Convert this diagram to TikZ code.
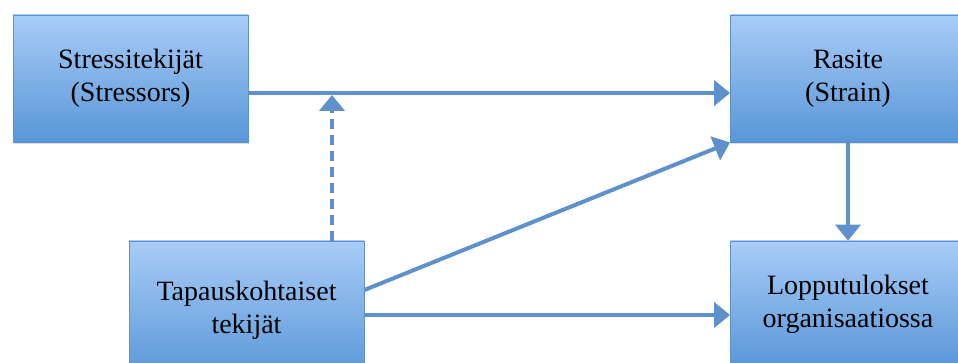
\documentclass[tikz,border=0pt]{standalone}
\usepackage{fontspec}
\setmainfont{Liberation Serif}
\usetikzlibrary{arrows.meta,shadows}
\definecolor{boxtop}{HTML}{A8CCF7}
\definecolor{boxbot}{HTML}{5896D7}
\definecolor{boxline}{HTML}{5E90CC}
\definecolor{arrowc}{HTML}{5E91CB}
\tikzset{
  box/.style={rectangle, draw=boxline, line width=0.8pt, top color=boxtop, bottom color=boxbot,
    minimum width=235pt, minimum height=127pt, align=center, inner sep=0pt,
    font=\fontsize{28}{33}\selectfont, text=black,
    drop shadow={opacity=0.25, shadow xshift=0.5pt, shadow yshift=-2pt}},
  arr/.style={draw=arrowc, line width=4pt, -{Triangle[width=25pt,length=16pt]}},
  dasharr/.style={arr, dash pattern=on 10pt off 6pt}
}
\begin{document}
\begin{tikzpicture}[x=1pt,y=-1pt]
\useasboundingbox (0,0) rectangle (958,363);
\clip (0,0) rectangle (958,363);
\node[box] (s) at (130.5,78.5) {Stressitekijät\\(Stressors)};
\node[box] (r) at (848,78.5) {Rasite\\(Strain)};
\node[box, minimum height=139pt] (t) at (246.5,310.5) {Tapauskohtaiset\\tekijät};
\node[box] (l) at (848,304.5) {Lopputulokset\\organisaatiossa};
\coordinate (m) at (332,95);
\draw[arr] ([yshift=-14.5pt]s.east) -- ([yshift=-14.5pt]r.west);
\draw[dasharr] (t.north -| m) -- (m);
\draw[arr] ([yshift=20.5pt]t.east) -- (r.south west);
\draw[arr] ([yshift=-4.5pt]t.east) -- ([yshift=-10.5pt]l.west);
\draw[arr] (r.south) -- (l.north);
\end{tikzpicture}
\end{document}
